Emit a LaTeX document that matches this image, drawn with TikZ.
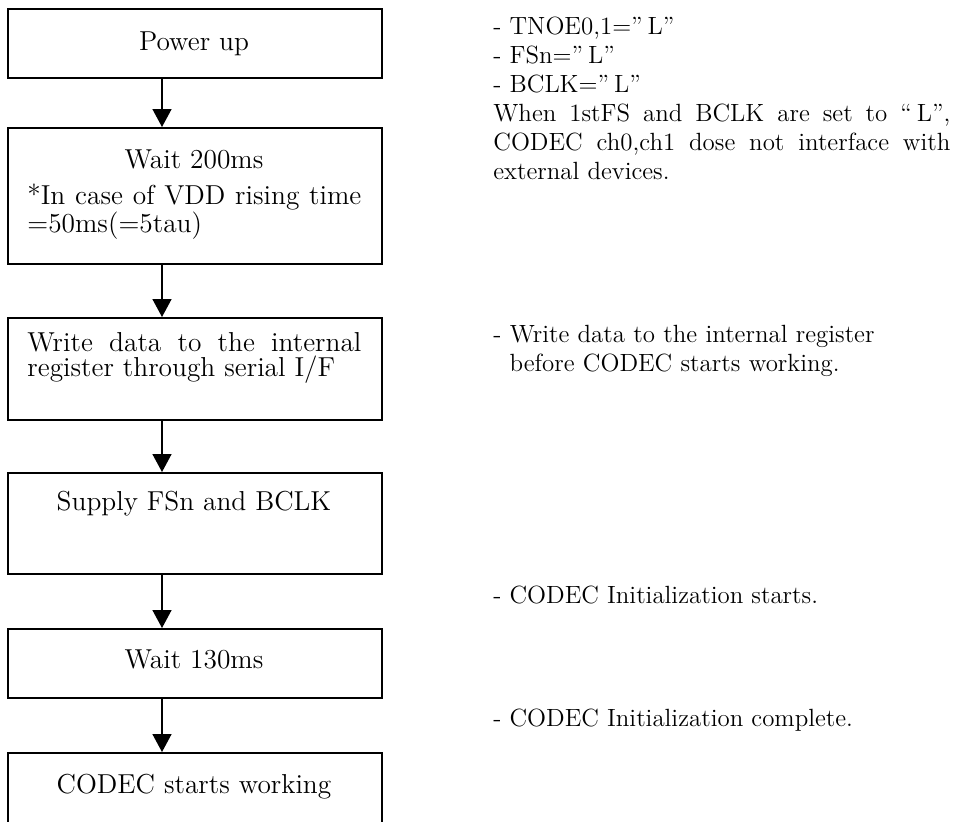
\documentclass[tikz,border=0pt]{standalone}
\usetikzlibrary{arrows.meta}
\lineskiplimit=-20pt
\newlength{\dashind}
\begin{document}
\settowidth{\dashind}{\fontsize{12.45}{14.5}\selectfont -\ }
\begin{tikzpicture}[x=0.5pt,y=-0.5pt,
  box/.style={draw, line width=1pt, rectangle, minimum width=187pt, inner sep=0pt, anchor=north west},
  boxtxt/.style={font=\fontsize{13.7}{12}\selectfont, inner sep=0pt, anchor=base},
  boxpar/.style={font=\fontsize{13.7}{12.75}\selectfont, inner sep=0pt, anchor=base west, text width=167pt, align=justify},
  note/.style={font=\fontsize{12.45}{14.5}\selectfont, inner sep=0pt, anchor=base west},
  arr/.style={line width=0.75pt, -{Triangle[width=9.5pt,length=9pt]}}]
\clip (0,0) rectangle (956,821);
\fill[white] (0,0) rectangle (956,821);
% boxes
\node[box, minimum height=34.5pt] (b1) at (7,8) {};
\node[box, minimum height=68pt]   (b2) at (7,127) {};
\node[box, minimum height=51pt]   (b3) at (7,317) {};
\node[box, minimum height=50.5pt] (b4) at (7,472) {};
\node[box, minimum height=34.5pt] (b5) at (7,628) {};
\node[box, minimum height=40pt]   (b6) at (7,752) {};
% box texts
\node[boxtxt] (t1) at (194,50) {Power up};
\node[boxtxt] (t2) at (194,168) {Wait 200ms};
\node[boxpar] (t2b) at (27,204) {*In case of VDD rising time\linebreak =50ms(=5tau)};
\node[boxpar] (t3) at (27,351) {Write data to the internal\linebreak register through serial I/F};
\node[boxtxt] (t4) at (194,510) {Supply FSn and BCLK};
\node[boxtxt] (t5) at (194,668) {Wait 130ms};
\node[boxtxt] (t6) at (194,793) {CODEC starts working};
% arrows
\coordinate (ax) at (162,0);
\draw[arr] (b1.south -| ax) -- (b2.north -| ax);
\draw[arr] (b2.south -| ax) -- (b3.north -| ax);
\draw[arr] (b3.south -| ax) -- (b4.north -| ax);
\draw[arr] (b4.south -| ax) -- (b5.north -| ax);
\draw[arr] (b5.south -| ax) -- (b6.north -| ax);
% notes
\node[note, text width=228.5pt, align=justify] (n1) at (493,34)
  {- TNOE0,1=”\hspace{0.2em}L”\newline - FSn=”\hspace{0.2em}L”\newline - BCLK=”\hspace{0.2em}L”\newline When 1stFS and BCLK are set to “\hspace{0.2em}L”,\linebreak CODEC ch0,ch1 dose not interface with\linebreak external devices.};
\node[note, text width=228.5pt, align=left] (n2) at (493,342)
  {- Write data to the internal register\newline\hspace*{\dashind}before CODEC starts working.};
\node[note] (n3) at (493,603) {- CODEC Initialization starts.};
\node[note] (n4) at (493,726) {- CODEC Initialization complete.};
\end{tikzpicture}
\end{document}
